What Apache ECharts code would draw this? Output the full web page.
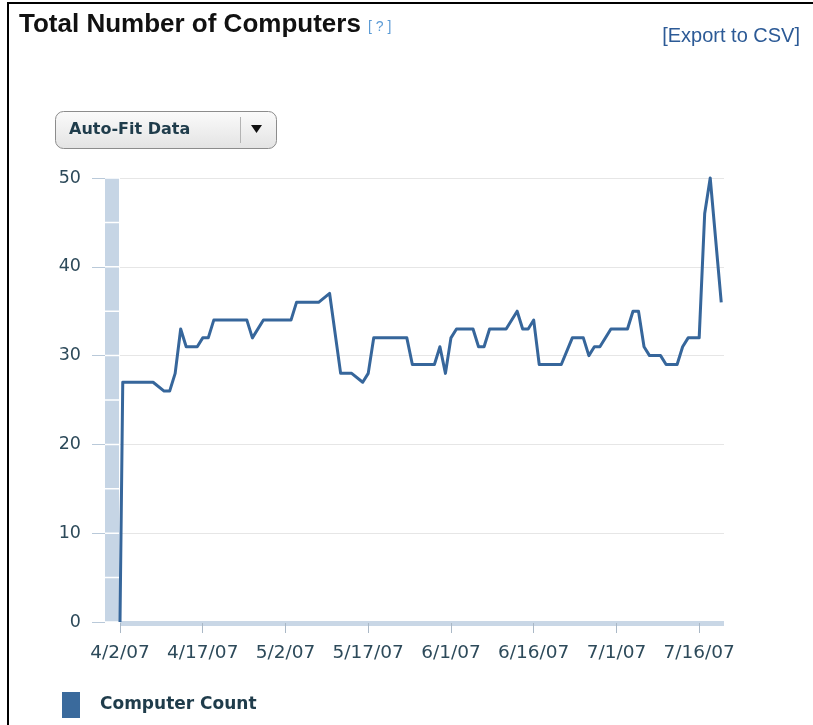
<!DOCTYPE html>
<html>
<head>
<meta charset="utf-8">
<title>Total Number of Computers</title>
<script src="https://cdn.jsdelivr.net/npm/echarts@6/dist/echarts.min.js"></script>
<style>
  html, body { margin: 0; padding: 0; background: #fff; }
  #wrap { position: relative; width: 813px; height: 725px; overflow: hidden; }
  #main { position: absolute; left: 0; top: 0; width: 813px; height: 725px; }
  #frame { position: absolute; left: 7px; top: 2px; width: 830px; height: 760px;
           border-left: 2px solid #000; border-top: 2px solid #000; pointer-events: none; }
</style>
</head>
<body>
<div id="wrap">
  <div id="main"></div>
  <div id="frame"></div>
</div>
<script>
// x axis ticks: days after 4/2/07
var tickDays = [0, 15, 30, 45, 60, 75, 90, 105];
var tickLabels = ['4/2/07', '4/17/07', '5/2/07', '5/17/07', '6/1/07', '6/16/07', '7/1/07', '7/16/07'];

// points (day offset from 4/2/07, computer count)
var dayOffsets = [0, 0.5, 6, 8, 9, 10, 11, 12, 14, 15, 16, 17, 23, 24, 26, 31, 32, 36, 38, 40,
  42, 44, 45, 46, 52, 53, 57, 58, 59, 60, 61, 64, 65, 66, 67, 70, 72, 73, 74, 75,
  76, 80, 82, 84, 85, 86, 87, 89, 92, 93, 94, 95, 96, 98, 99, 101, 102, 103, 105, 106,
  107, 109];
var computerCount = [0, 27, 27, 26, 26, 28, 33, 31, 31, 32, 32, 34, 34, 32, 34, 34, 36, 36, 37, 28,
  28, 27, 28, 32, 32, 29, 29, 31, 28, 32, 33, 33, 31, 31, 33, 33, 35, 33, 33, 34,
  29, 29, 32, 32, 30, 31, 31, 33, 33, 35, 35, 31, 30, 30, 29, 29, 31, 32, 32, 46,
  50, 36];

var lineColor = '#36669b';
var labelColor = '#2d4a5a';

var chart = echarts.init(document.getElementById('main'));

var seriesData = dayOffsets.map(function (d, i) {
  return [d, computerCount[i]];
});

var option = {
  animation: false,
  title: {
    text: 'Total Number of Computers',
    left: 19,
    top: 12,
    padding: 0,
    textStyle: {
      fontFamily: 'Liberation Sans',
      fontWeight: 'bold',
      fontSize: 26,
      color: '#111'
    }
  },
  legend: {
    data: [{ name: 'Computer Count', icon: 'rect', itemStyle: { color: '#3a6a9c' } }],
    left: 62,
    top: 692,
    padding: 0,
    itemWidth: 18,
    itemHeight: 26,
    textStyle: {
      fontFamily: 'DejaVu Sans',
      fontWeight: 'bold',
      fontSize: 17,
      color: '#1f3c4b',
      padding: [0, 0, 0, 15]
    }
  },
  grid: {
    left: 120,
    right: 89,
    top: 178,
    bottom: 103
  },
  xAxis: {
    type: 'value',
    min: 0,
    max: 109.5,
    offset: 1,
    axisLine: {
      onZero: false,
      lineStyle: { color: '#c9d7e6', width: 5, cap: 'butt' }
    },
    axisTick: {
      customValues: tickDays,
      length: 10,
      lineStyle: { color: '#aab8c6' }
    },
    axisLabel: {
      customValues: tickDays,
      formatter: function (v) {
        var i = tickDays.indexOf(v);
        return i >= 0 ? tickLabels[i] : '';
      },
      margin: 21,
      fontFamily: 'DejaVu Sans',
      fontSize: 18.5,
      color: labelColor
    },
    splitLine: { show: false }
  },
  yAxis: [
    {
      type: 'value',
      min: 0,
      max: 50,
      interval: 10,
      position: 'left',
      offset: 8,
      axisLine: {
        show: true,
        onZero: false,
        lineStyle: { color: '#c6d5e5', width: 14, cap: 'butt', type: [42.9, 1.5], dashOffset: -0.75 }
      },
      axisTick: { show: false },
      axisLabel: {
        margin: 31,
        fontFamily: 'DejaVu Sans',
        fontSize: 17.5,
        color: labelColor
      },
      splitLine: { lineStyle: { color: '#e6e6e6', width: 1 } }
    },
    {
      type: 'value',
      min: 0,
      max: 50,
      interval: 10,
      position: 'left',
      offset: 15,
      axisLine: { show: false, onZero: false },
      axisTick: { show: true, length: 13, lineStyle: { color: '#b9c9d9' } },
      axisLabel: { show: false },
      splitLine: { show: false }
    }
  ],
  series: [
    {
      name: 'Computer Count',
      type: 'line',
      yAxisIndex: 0,
      data: seriesData,
      showSymbol: false,
      clip: false,
      z: 5,
      lineStyle: { color: lineColor, width: 3, join: 'round' },
      itemStyle: { color: lineColor }
    }
  ],
  graphic: [
    {
      type: 'text',
      style: {
        text: '[ ? ]', x: 368, y: 27, verticalAlign: 'middle',
        fontFamily: 'Liberation Sans', fontSize: 14, fill: '#5b9bd5'
      }
    },
    {
      type: 'text',
      style: {
        text: '[Export to CSV]', x: 800, y: 36, align: 'right', verticalAlign: 'middle',
        fontFamily: 'Liberation Sans', fontSize: 20, fill: '#2c5a96'
      }
    },
    {
      type: 'group',
      children: [
        {
          type: 'rect',
          shape: { x: 55.5, y: 111.5, width: 221, height: 37, r: 8 },
          style: {
            fill: new echarts.graphic.LinearGradient(0, 0, 0, 1, [
              { offset: 0, color: '#fbfbfb' },
              { offset: 1, color: '#e3e3e3' }
            ]),
            stroke: '#8c8c8c',
            lineWidth: 1
          }
        },
        {
          type: 'line',
          shape: { x1: 240.5, y1: 117, x2: 240.5, y2: 143 },
          style: { stroke: '#b3b3b3', lineWidth: 1 }
        },
        {
          type: 'polygon',
          shape: { points: [[251, 125], [262, 125], [256.5, 133]] },
          style: { fill: '#111' }
        },
        {
          type: 'text',
          style: {
            text: 'Auto-Fit Data', x: 69, y: 130, verticalAlign: 'middle',
            fontFamily: 'DejaVu Sans', fontWeight: 'bold', fontSize: 16, fill: '#1f3c4b'
          }
        }
      ]
    }
  ]
};

chart.setOption(option);
</script>
</body>
</html>
